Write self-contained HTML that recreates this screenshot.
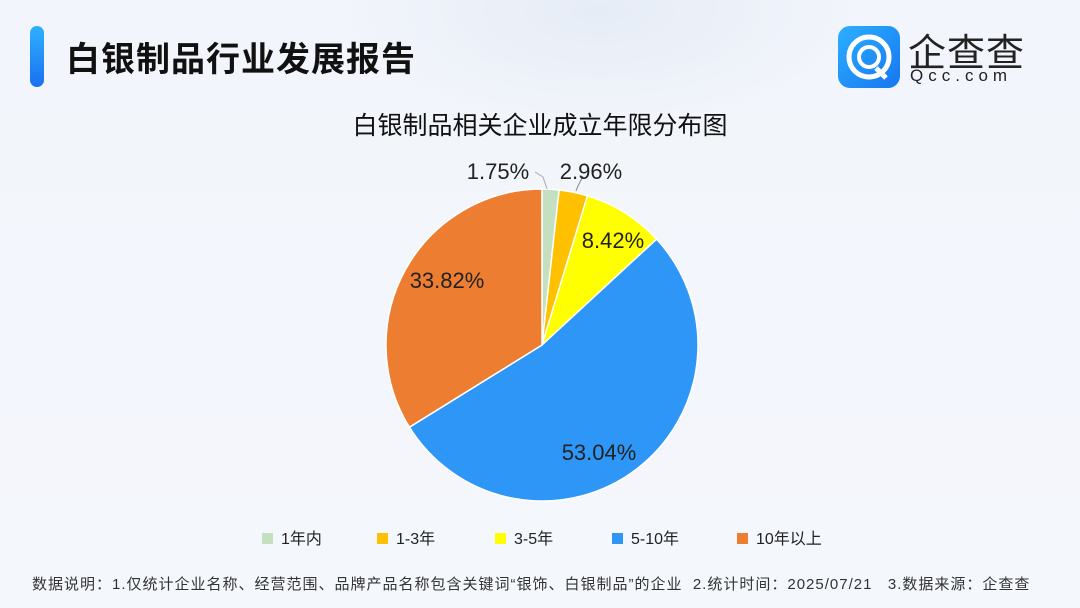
<!DOCTYPE html>
<html><head><meta charset="utf-8"><style>
body{margin:0;width:1080px;height:608px;overflow:hidden;font-family:"Liberation Sans","Noto Sans CJK SC",sans-serif;background:linear-gradient(180deg,#f2f5fb,#f4f7fc);position:relative}
.t{position:absolute}
</style></head><body>
<div class="t" style="left:0;top:0;width:1080px;height:608px;background:radial-gradient(ellipse 260px 120px at 600px 10px,#e6ecf6,rgba(0,0,0,0))"></div>
<div class="t" style="left:30px;top:26px;width:14px;height:61px;border-radius:7px;background:linear-gradient(180deg,#2fb0ff,#1a6ff0)"></div>
<div class="t" style="left:66px;top:32px;font-size:34px;font-weight:bold;color:#111;letter-spacing:1px">白银制品行业发展报告</div>
<div class="t" style="left:838px;top:26px;width:62px;height:62px;border-radius:12px;background:linear-gradient(135deg,#2cb0ff,#1676f0)">
<svg width="62" height="62"><circle cx="31" cy="31" r="20" fill="none" stroke="#fff" stroke-width="5"/><circle cx="31" cy="31" r="10" fill="none" stroke="#fff" stroke-width="4"/><path d="M38 42 L48 52" stroke="#fff" stroke-width="5"/></svg></div>
<div class="t" style="left:908px;top:22px;font-size:38px;color:#222;letter-spacing:1px">企查查</div>
<div class="t" style="left:910px;top:66px;font-size:17px;color:#222;letter-spacing:5px">Qcc.com</div>
<div class="t" style="left:0;width:1080px;top:106px;text-align:center;font-size:25px;color:#111">白银制品相关企业成立年限分布图</div>
<svg class="t" style="left:0;top:0" width="1080" height="608" id="s"></svg>
<div class="t" style="left:0;width:1080px;top:525px;font-size:16px;color:#222">
<span style="position:absolute;left:262px"><i style="display:inline-block;width:11px;height:11px;background:#c5e0c0;margin-right:8px"></i>1年内</span>
<span style="position:absolute;left:377px"><i style="display:inline-block;width:11px;height:11px;background:#ffc000;margin-right:8px"></i>1-3年</span>
<span style="position:absolute;left:495px"><i style="display:inline-block;width:11px;height:11px;background:#ffff00;margin-right:8px"></i>3-5年</span>
<span style="position:absolute;left:612px"><i style="display:inline-block;width:11px;height:11px;background:#2d96f6;margin-right:8px"></i>5-10年</span>
<span style="position:absolute;left:737px"><i style="display:inline-block;width:11px;height:11px;background:#ed7d31;margin-right:8px"></i>10年以上</span>
</div>
<div class="t" style="left:32px;top:573px;font-size:15px;letter-spacing:1px;color:#333;white-space:nowrap">数据说明：1.仅统计企业名称、经营范围、品牌产品名称包含关键词“银饰、白银制品”的企业&nbsp;&nbsp;2.统计时间：2025/07/21&nbsp;&nbsp;&nbsp;3.数据来源：企查查</div>
<script>
var d=[1.75,2.96,8.42,53.04,33.82],c=["#c5e0c0","#ffc000","#ffff00","#2d96f6","#ed7d31"];
var cx=542,cy=345,r=156,a=0,h="";
for(var i=0;i<5;i++){var a2=a+d[i]/100*2*Math.PI;
var x1=cx+r*Math.sin(a),y1=cy-r*Math.cos(a),x2=cx+r*Math.sin(a2),y2=cy-r*Math.cos(a2);
h+='<path d="M'+cx+' '+cy+'L'+x1+' '+y1+'A'+r+' '+r+' 0 '+(a2-a>Math.PI?1:0)+' 1 '+x2+' '+y2+'Z" fill="'+c[i]+'" stroke="#fff" stroke-width="1.5"/>';a=a2;}
h+='<path d="M535 172 L543 177 L547 189" fill="none" stroke="#aaa"/><path d="M583 176 L578 186 L576 191" fill="none" stroke="#888"/>';
var L=[[498,179,"1.75%"],[591,179,"2.96%"],[613,248,"8.42%"],[599,460,"53.04%"],[447,288,"33.82%"]];
L.forEach(function(l){h+='<text x="'+l[0]+'" y="'+l[1]+'" font-size="22" fill="#222" text-anchor="middle" font-family="Liberation Sans, sans-serif">'+l[2]+'</text>'});
document.getElementById("s").innerHTML=h;
</script>
</body></html>
